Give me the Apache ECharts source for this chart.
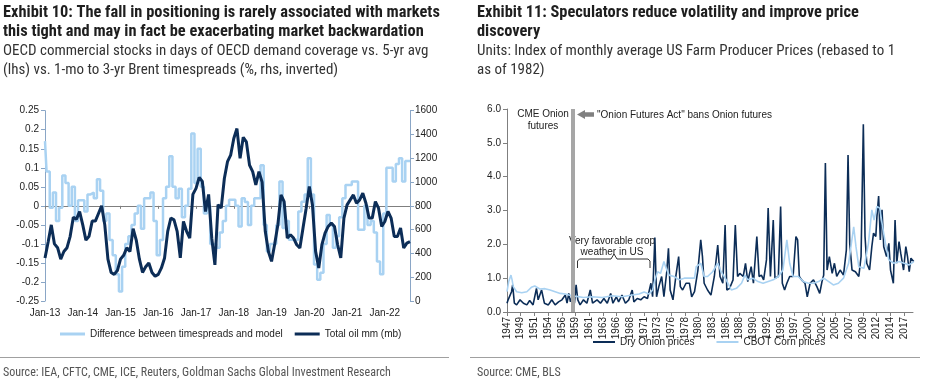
<!DOCTYPE html>
<html><head><meta charset="utf-8">
<script src="https://cdn.jsdelivr.net/npm/echarts@6.0.0/dist/echarts.min.js"></script>
<style>html,body{margin:0;padding:0;background:#fff}#c{width:930px;height:388px}</style>
</head><body><div id="c"></div>
<script>
// ---------- Exhibit 10 data (monthly, Jan-13 .. Sep-22) ----------
const startYear = 2013;
const monthCount = 117;
const monthNames = ['Jan','Feb','Mar','Apr','May','Jun','Jul','Aug','Sep','Oct','Nov','Dec'];
const spreadDiff = [
 0.17,0.09,-0.005,0.035,-0.04,-0.005,0.08,0.06,0.0,0.05,-0.04,0.015,
 0.015,-0.015,0.03,0.035,0.02,0.07,0.04,-0.04,-0.02,-0.09,-0.13,-0.18,
 -0.225,-0.16,-0.1,-0.08,-0.05,-0.02,0.0,-0.06,0.02,0.02,0.035,-0.04,
 -0.13,-0.09,0.02,0.05,0.13,0.05,0.02,0.045,-0.03,0.0,0.045,0.19,
 0.06,0.15,0.05,-0.02,0.0,-0.1,-0.1,-0.11,-0.07,-0.04,0.0,0.016,
 0.016,0.0,-0.054,0.02,0.01,-0.05,0.0,0.02,0.02,0.107,-0.05,-0.12,
 -0.1,-0.1,-0.05,0.064,-0.058,-0.04,-0.089,-0.089,-0.09,-0.015,0.011,0.03,
 0.125,0.03,-0.154,-0.194,-0.176,-0.1,-0.024,-0.05,-0.11,-0.08,-0.03,0.02,
 0.055,0.055,0.064,0.064,-0.063,-0.063,0.0,-0.05,-0.04,-0.07,-0.146,-0.18,
 -0.02,0.1,0.1,0.064,0.11,0.125,0.064,0.118,0.118
];
const totalOil = [
 362,496,640,480,448,352,416,448,544,704,688,752,
 640,512,544,672,672,736,800,640,352,240,224,256,
 352,384,448,416,608,512,352,240,288,320,240,208,
 224,278,362,586,698,682,586,362,669,586,528,896,
 947,1040,1005,752,896,528,304,810,781,1030,1171,1226,
 1366,1450,1200,1376,1338,1142,1088,976,1088,1000,586,416,
 333,480,640,892,836,529,557,529,473,445,613,780,
 962,808,417,278,473,571,627,655,627,473,362,697,
 808,850,892,822,850,906,822,697,697,836,780,627,
 669,753,697,543,543,613,445,487,500
];
const leftNames = ['Difference between timespreads and model','Total oil mm (mb)'];

// ---------- Exhibit 11 data ([year, index]) ----------
const onionPrices = [
 [1947.0,0.26],[1947.2,0.36],[1947.5,0.4],[1947.8,0.6],[1948.0,0.8],[1948.3,0.26],[1948.7,0.21],
 [1949.3,0.36],[1949.9,0.26],[1950.5,0.21],[1951.0,0.34],[1951.6,0.21],[1952.2,0.7],[1952.5,0.36],
 [1953.1,0.65],[1953.6,0.26],[1954.3,0.21],[1954.9,0.36],[1955.5,0.21],[1956.1,0.3],[1956.7,0.36],
 [1957.3,0.5],[1957.6,0.26],[1957.9,0.55],[1958.2,0.3],[1958.6,0.5],[1958.9,0.26],[1959.2,0.8],
 [1959.5,0.36],[1959.9,0.21],[1960.5,0.36],[1961.1,0.26],[1961.7,0.65],[1962.1,0.26],[1962.9,0.36],
 [1963.5,0.26],[1964.1,0.4],[1964.7,0.26],[1965.3,0.55],[1965.7,0.26],[1966.3,0.45],[1966.7,0.3],
 [1967.3,0.5],[1967.9,0.26],[1968.5,0.36],[1969.1,0.65],[1969.4,0.3],[1970.0,0.4],[1970.6,0.36],
 [1971.2,0.45],[1971.8,0.4],[1972.4,0.85],[1972.7,0.45],[1973.1,2.2],[1973.4,0.45],[1973.8,0.75],
 [1974.3,1.05],[1974.7,0.45],[1975.2,1.19],[1975.5,1.88],[1975.8,0.65],[1976.3,0.36],[1976.8,1.05],
 [1977.3,1.64],[1977.6,0.75],[1978.0,0.65],[1978.6,0.85],[1979.2,0.85],[1979.6,0.45],[1980.1,0.6],
 [1980.7,1.24],[1981.2,2.13],[1981.5,1.64],[1981.8,0.85],[1982.4,0.65],[1983.0,0.5],[1983.6,1.05],
 [1984.2,1.98],[1984.6,1.05],[1985.1,0.85],[1985.5,2.57],[1985.8,0.65],[1986.3,0.7],[1986.9,0.95],
 [1987.3,2.57],[1987.7,1.05],[1988.1,1.14],[1988.7,1.05],[1989.1,1.44],[1989.5,0.9],[1990.1,1.34],
 [1990.5,0.85],[1991.1,2.23],[1991.5,1.05],[1991.9,1.09],[1992.3,0.95],[1992.8,1.54],[1993.1,3.07],
 [1993.5,1.05],[1994.0,2.72],[1994.3,1.0],[1994.9,1.05],[1995.3,3.12],[1995.6,0.85],[1996.0,0.65],
 [1996.4,0.85],[1996.9,1.05],[1997.5,1.05],[1998.0,2.23],[1998.3,2.13],[1998.6,1.05],[1999.0,0.95],
 [1999.6,0.85],[2000.0,0.45],[2000.5,0.85],[2001.1,0.95],[2001.7,0.75],[2002.2,0.55],[2002.6,0.9],
 [2002.9,1.09],[2003.2,4.4],[2003.5,1.24],[2003.9,1.64],[2004.4,1.14],[2004.8,1.44],[2005.2,1.05],
 [2005.8,1.24],[2006.4,1.09],[2006.9,1.83],[2007.2,4.64],[2007.5,2.03],[2007.9,1.24],[2008.5,1.19],
 [2009.1,1.05],[2009.5,1.64],[2009.9,5.55],[2010.2,2.23],[2010.5,1.44],[2011.0,1.24],[2011.4,1.93],
 [2011.7,2.33],[2012.1,2.23],[2012.3,2.82],[2012.6,3.43],[2012.9,2.13],[2013.2,3.02],[2013.5,1.93],
 [2014.0,1.64],[2014.4,2.03],[2014.7,1.24],[2015.2,0.85],[2015.5,2.72],[2015.8,1.44],[2016.2,2.08],
 [2016.5,1.74],[2017.0,1.24],[2017.4,1.93],[2017.7,1.64],[2018.0,1.19],[2018.3,1.59],[2018.8,1.49]
];
const cornPrices = [
 [1947.0,0.6],[1947.3,0.9],[1947.7,1.09],[1947.9,0.95],[1948.1,0.75],[1948.7,0.6],[1949.6,0.57],
 [1950.5,0.6],[1951.3,0.73],[1951.9,0.77],[1952.8,0.68],[1953.7,0.69],[1954.6,0.65],[1955.5,0.6],
 [1956.4,0.55],[1957.3,0.53],[1957.9,0.5],[1959.0,0.47],[1960.5,0.43],[1962.0,0.45],[1963.8,0.43],
 [1965.6,0.48],[1967.3,0.45],[1969.1,0.5],[1970.3,0.53],[1971.2,0.59],[1972.1,0.53],[1972.7,0.65],
 [1973.1,0.95],[1973.6,1.19],[1974.1,1.14],[1974.7,1.49],[1975.0,1.34],[1975.6,1.09],[1976.5,1.05],
 [1977.4,0.95],[1978.3,1.0],[1979.2,1.0],[1980.1,1.0],[1980.4,1.34],[1981.2,1.44],[1981.8,1.05],
 [1982.4,1.05],[1983.3,1.19],[1984.2,1.44],[1984.8,1.19],[1985.7,0.95],[1986.6,0.65],[1987.5,0.7],
 [1988.4,0.85],[1989.0,1.09],[1989.5,0.95],[1990.4,1.0],[1991.3,0.9],[1992.2,0.85],[1993.1,0.9],
 [1994.0,0.95],[1994.9,1.05],[1995.7,1.24],[1996.4,2.13],[1996.9,1.44],[1997.5,1.05],[1998.4,1.05],
 [1999.3,0.9],[2000.2,0.85],[2001.1,0.85],[2002.0,0.9],[2002.9,1.0],[2003.8,0.9],[2004.6,0.8],
 [2005.5,0.85],[2006.4,1.0],[2007.3,1.44],[2008.2,2.52],[2008.6,1.93],[2009.1,1.34],[2010.0,1.29],
 [2010.8,2.03],[2011.4,3.02],[2011.8,2.72],[2012.3,3.12],[2012.8,3.07],[2013.2,2.62],[2013.8,2.03],
 [2014.4,1.54],[2015.3,1.44],[2016.2,1.49],[2017.1,1.44],[2018.0,1.39],[2018.8,1.49]
];
const rightNames = ['Dry Onion prices','CBOT Corn prices'];
const rightStartYear = 1947;
const rightEndMonth = 860;
const labelEveryMonths = 29;
const onionActYear = 1958.6;

// ---------- build ----------
const months = [];
for (let i = 0; i < monthCount; i++) {
  const y = startYear + Math.floor(i / 12);
  months.push(monthNames[i % 12] + '-' + String(y).slice(2));
}
const toMonth = p => [Math.round((p[0] - rightStartYear) * 12 * 10) / 10, p[1]];

const NARROW = '"Liberation Sans Narrow","Arial Narrow","Roboto Condensed","DejaVu Sans Condensed",sans-serif';
const ARIAL = '"Liberation Sans",Arial,Helvetica,sans-serif';
const LIGHT = '#a9d2f2';
const DARK = '#0c2d57';
const AXISBLUE = '#8aa6c6';
const GREY = '#7f7f7f';

const chart = echarts.init(document.getElementById('c'), null, {renderer: 'canvas'});
const lbl = {fontFamily: ARIAL, fontSize: 10, color: '#222'};
const legText = {fontFamily: ARIAL, fontSize: 10, color: '#222'};

chart.setOption({
  animation: false,
  backgroundColor: '#fff',
  grid: [
    {left: 45, top: 110.7, width: 365, height: 190.3, containLabel: false, outerBoundsMode: 'none'},
    {left: 507, top: 109, width: 406, height: 203, containLabel: false, outerBoundsMode: 'none'}
  ],
  xAxis: [
    {type: 'category', gridIndex: 0, data: months, boundaryGap: false, position: 'bottom',
     axisLine: {show: false, onZero: false}, axisTick: {show: false},
     axisLabel: Object.assign({interval: 11, margin: 7}, lbl), splitLine: {show: false}},
    {type: 'category', gridIndex: 0, data: months, boundaryGap: false, position: 'bottom',
     axisLine: {show: true, onZero: true, onZeroAxisIndex: 0, lineStyle: {color: GREY, width: 1}},
     axisTick: {show: true, interval: 11, length: 3, lineStyle: {color: GREY}},
     axisLabel: {show: false}, splitLine: {show: false}},
    {type: 'value', gridIndex: 1, min: 0, max: rightEndMonth, interval: labelEveryMonths,
     axisLine: {show: true, onZero: false, lineStyle: {color: GREY}},
     axisTick: {show: true, length: 4, lineStyle: {color: GREY}},
     axisLabel: Object.assign({rotate: 90, margin: 5, showMaxLabel: false,
       formatter: v => String(rightStartYear + Math.floor(Math.round(v) / 12))}, lbl),
     splitLine: {show: false}}
  ],
  yAxis: [
    {type: 'value', gridIndex: 0, min: -0.25, max: 0.25, interval: 0.05, position: 'left',
     axisLine: {show: true, lineStyle: {color: AXISBLUE}}, axisTick: {show: true, length: 4, lineStyle: {color: AXISBLUE}},
     axisLabel: Object.assign({margin: 6, formatter: v => String(Math.round(v * 100) / 100)}, lbl), splitLine: {show: false}},
    {type: 'value', gridIndex: 0, min: 0, max: 1600, interval: 200, position: 'right',
     axisLine: {show: true, lineStyle: {color: AXISBLUE}}, axisTick: {show: true, length: 4, lineStyle: {color: AXISBLUE}},
     axisLabel: Object.assign({margin: 5, formatter: v => String(v)}, lbl), splitLine: {show: false}},
    {type: 'value', gridIndex: 1, min: 0, max: 6, interval: 1, position: 'left',
     axisLine: {show: true, lineStyle: {color: GREY}}, axisTick: {show: true, length: 4, lineStyle: {color: GREY}},
     axisLabel: Object.assign({margin: 6, formatter: v => v.toFixed(1)}, lbl), splitLine: {show: false}}
  ],
  legend: [
    {data: leftNames.map(n => ({name: n, icon: 'rect'})), left: 60, top: 329, padding: 0, itemWidth: 25, itemHeight: 3, itemGap: 12,
     textStyle: legText},
    {data: rightNames.map(n => ({name: n, icon: 'rect'})), left: 593, top: 337, padding: 0, itemWidth: 22, itemHeight: 2, itemGap: 22,
     textStyle: legText}
  ],
  series: [
    {name: leftNames[0], type: 'line', xAxisIndex: 0, yAxisIndex: 0, data: spreadDiff, step: 'middle',
     showSymbol: false, symbol: 'none', lineStyle: {color: LIGHT, width: 2.5}, itemStyle: {color: LIGHT}},
    {name: leftNames[1], type: 'line', xAxisIndex: 0, yAxisIndex: 1, data: totalOil,
     showSymbol: false, symbol: 'none', lineStyle: {color: DARK, width: 3}, itemStyle: {color: DARK}},
    {name: rightNames[0], type: 'line', xAxisIndex: 2, yAxisIndex: 2, data: onionPrices.map(toMonth),
     showSymbol: false, symbol: 'none', lineStyle: {color: DARK, width: 1.6}, itemStyle: {color: DARK}},
    {name: rightNames[1], type: 'line', xAxisIndex: 2, yAxisIndex: 2, data: cornPrices.map(toMonth),
     showSymbol: false, symbol: 'none', lineStyle: {color: LIGHT, width: 1.6}, itemStyle: {color: LIGHT},
     markLine: {silent: true, symbol: 'none', label: {show: false},
       lineStyle: {color: '#a6a6a6', width: 4, type: 'solid'},
       data: [{xAxis: (onionActYear - rightStartYear) * 12}]}}
  ],
  graphic: [
    {type: 'text', left: 3, top: 4, style: {text: 'Exhibit 10: The fall in positioning is rarely associated with markets\nthis tight and may in fact be exacerbating market backwardation',
      fontFamily: NARROW, fontWeight: 'bold', fontSize: 16.4, lineHeight: 18.5, fill: '#1e1e1e'}},
    {type: 'text', left: 3, top: 42, style: {text: 'OECD commercial stocks in days of OECD demand coverage vs. 5-yr avg\n(lhs) vs. 1-mo to 3-yr Brent timespreads (%, rhs, inverted)',
      fontFamily: NARROW, fontSize: 15, lineHeight: 18.5, fill: '#333'}},
    {type: 'text', left: 477, top: 4, style: {text: 'Exhibit 11: Speculators reduce volatility and improve price\ndiscovery',
      fontFamily: NARROW, fontWeight: 'bold', fontSize: 16.4, lineHeight: 18.5, fill: '#1e1e1e'}},
    {type: 'text', left: 477, top: 42, style: {text: 'Units: Index of monthly average US Farm Producer Prices (rebased to 1\nas of 1982)',
      fontFamily: NARROW, fontSize: 15, lineHeight: 18.5, fill: '#333'}},
    {type: 'line', shape: {x1: 0, y1: 357.5, x2: 449, y2: 357.5}, style: {stroke: '#a0a0a0', lineWidth: 1}},
    {type: 'line', shape: {x1: 470, y1: 357.5, x2: 920, y2: 357.5}, style: {stroke: '#a0a0a0', lineWidth: 1}},
    {type: 'text', left: 3, top: 367, style: {text: 'Source: IEA, CFTC, CME, ICE, Reuters, Goldman Sachs Global Investment Research',
      fontFamily: NARROW, fontSize: 12, fill: '#555'}},
    {type: 'text', left: 477, top: 367, style: {text: 'Source: CME, BLS', fontFamily: NARROW, fontSize: 12, fill: '#555'}},
    {type: 'text', x: 543, y: 120, style: {text: 'CME Onion\nfutures', fontFamily: ARIAL, fontSize: 10, lineHeight: 11.5,
      fill: '#222', align: 'center', verticalAlign: 'middle'}, silent: true},
    {type: 'polygon', shape: {points: [[577, 114.5], [585, 110], [585, 112.3], [594, 112.3], [594, 116.7], [585, 116.7], [585, 119]]},
      style: {fill: '#808080'}},
    {type: 'text', x: 597, y: 115, style: {text: '"Onion Futures Act" bans Onion futures', fontFamily: ARIAL, fontSize: 10,
      fill: '#222', verticalAlign: 'middle'}},
    {type: 'text', x: 612, y: 246.5, style: {text: 'Very favorable crop\nweather in US', fontFamily: ARIAL, fontSize: 10, lineHeight: 11.5,
      fill: '#222', align: 'center', verticalAlign: 'middle'}},
    {type: 'polyline', shape: {points: [[577.5, 268], [577.5, 261], [579.5, 259], [611, 259], [614, 254], [617, 259], [648, 259], [650, 261], [650, 268]]},
      style: {stroke: '#333', lineWidth: 1, fill: null}}
  ]
});
</script></body></html>
